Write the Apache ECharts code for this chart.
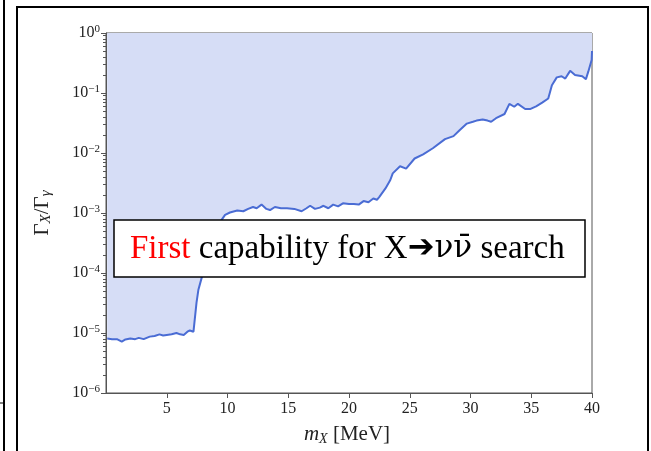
<!DOCTYPE html>
<html>
<head>
<meta charset="utf-8">
<script src="https://cdn.jsdelivr.net/npm/echarts@6/dist/echarts.min.js"></script>
<style>
html,body{margin:0;padding:0;background:#fff;}
#chart{width:651px;height:451px;}
</style>
</head>
<body>
<div id="chart"></div>
<script>
// m_X [MeV]
const massMeV = [
  0.1, 0.5, 0.9, 1.3, 1.6, 2.0, 2.4, 2.7, 3.1, 3.6, 4.0, 4.4, 4.7, 5.0, 5.4, 5.8, 6.1, 6.4, 6.7, 6.9, 7.2, 7.35,
  7.45, 7.6, 7.9, 8.3, 8.8, 9.4, 9.8, 10.2, 10.8, 11.3, 11.7, 12.1, 12.4, 12.8, 13.2, 13.5, 13.9, 14.4, 14.9,
  15.5, 16.1, 16.5, 16.8, 17.2, 17.6, 17.9, 18.3, 18.7, 19.1, 19.5, 20.0, 20.4, 20.8, 21.2, 21.6, 22.0, 22.3,
  22.5, 23.0, 23.4, 23.6, 24.2, 24.7, 25.4, 26.1, 26.9, 27.9, 28.6, 29.1, 29.7, 30.2, 30.5, 31.0, 31.4, 31.7,
  32.1, 32.8, 33.2, 33.6, 33.9, 34.5, 34.9, 35.4, 35.9, 36.4, 36.7, 37.1, 37.5, 37.8, 38.2, 38.6, 39.2, 39.5,
  39.7, 39.97, 40.0
];
// Gamma_X / Gamma_gamma limit
const ratio = [
  8.1e-6, 7.9e-6, 7.9e-6, 7.2e-6, 7.8e-6, 8.1e-6, 7.9e-6, 8.3e-6, 7.9e-6, 8.7e-6, 8.9e-6, 9.5e-6, 9.1e-6, 9.3e-6, 9.5e-6, 1.0e-5, 9.5e-6, 9.3e-6, 1.05e-5, 1.1e-5, 1.05e-5, 1.02e-5,
  3.2e-5, 5.2e-5, 8.7e-5, 2.5e-4, 5.0e-4, 7.1e-4, 9.3e-4, 1.02e-3, 1.10e-3, 1.07e-3, 1.17e-3, 1.26e-3, 1.20e-3, 1.38e-3, 1.17e-3, 1.12e-3, 1.26e-3, 1.20e-3, 1.20e-3,
  1.17e-3, 1.07e-3, 1.20e-3, 1.32e-3, 1.17e-3, 1.23e-3, 1.32e-3, 1.20e-3, 1.38e-3, 1.29e-3, 1.45e-3, 1.41e-3, 1.41e-3, 1.38e-3, 1.58e-3, 1.51e-3, 1.74e-3, 1.66e-3,
  1.86e-3, 2.57e-3, 3.55e-3, 4.57e-3, 6.0e-3, 5.5e-3, 8.1e-3, 9.5e-3, 1.20e-2, 1.70e-2, 1.91e-2, 2.40e-2, 3.09e-2, 3.31e-2, 3.47e-2, 3.63e-2, 3.47e-2, 3.31e-2,
  3.80e-2, 4.47e-2, 6.6e-2, 5.9e-2, 6.6e-2, 5.4e-2, 5.4e-2, 6.0e-2, 6.9e-2, 8.1e-2, 0.135, 0.182, 0.19, 0.174, 0.234, 0.20, 0.19, 0.17,
  0.229, 0.355, 0.5
];
const xTicks = [5, 10, 15, 20, 25, 30, 35, 40];
const yMinorTicks = [];
[-6, -5, -4, -3, -2, -1].forEach(function (e) {
  for (let k = 2; k <= 9; k++) yMinorTicks.push(k * Math.pow(10, e));
});

const serif = 'Liberation Serif';
const chart = echarts.init(document.getElementById('chart'), null, {renderer: 'canvas'});
const seriesData = massMeV.map(function (m, i) { return [m, ratio[i]]; });

chart.setOption({
  animation: false,
  backgroundColor: '#ffffff',
  grid: {left: 106, right: 59, top: 33, bottom: 58, show: true, borderColor: '#555', borderWidth: 1, backgroundColor: 'transparent'},
  xAxis: {
    type: 'value', min: 0, max: 40, interval: 5,
    axisLine: {show: true, lineStyle: {color: '#555', width: 1}},
    axisTick: {show: true, inside: false, length: 5, customValues: xTicks, lineStyle: {color: '#555'}},
    axisLabel: {customValues: xTicks, fontFamily: serif, fontSize: 16, color: '#222', margin: 8},
    splitLine: {show: false}
  },
  yAxis: [{
    type: 'log', logBase: 10, min: 1e-6, max: 1, interval: 1,
    axisLine: {show: true, lineStyle: {color: '#555', width: 1}},
    axisTick: {show: true, inside: false, length: 5, lineStyle: {color: '#555'}},
    axisLabel: {
      margin: 6, color: '#222',
      formatter: function (v) {
        const e = Math.round(Math.log10(v));
        return '{b|10}{s|' + (e < 0 ? '\u2212' + (-e) : e) + '}';
      },
      rich: {
        b: {fontFamily: serif, fontSize: 16, color: '#222', lineHeight: 18},
        s: {fontFamily: serif, fontSize: 11, color: '#222', lineHeight: 10, verticalAlign: 'top'}
      }
    },
    splitLine: {show: false}
  }, {
    type: 'log', logBase: 10, min: 1e-6, max: 1, position: 'left',
    axisLine: {show: false},
    axisTick: {show: true, inside: false, length: 3, customValues: yMinorTicks, lineStyle: {color: '#555'}},
    axisLabel: {show: false},
    splitLine: {show: false}
  }],
  series: [{
    type: 'line',
    data: seriesData,
    showSymbol: false,
    smooth: false,
    lineStyle: {color: '#4a6cd4', width: 2},
    areaStyle: {origin: 'end', color: '#d6ddf6', opacity: 1},
    z: 2
  }],
  graphic: [
    // outer panel frames
    {type: 'rect', shape: {x: 17, y: 7, width: 631, height: 460}, style: {fill: null, stroke: '#000', lineWidth: 2}, z: 100, silent: true},
    {type: 'line', shape: {x1: 4, y1: 0, x2: 4, y2: 451}, style: {stroke: '#000', lineWidth: 2}, z: 100, silent: true},
    {type: 'line', shape: {x1: 0, y1: 403, x2: 4, y2: 403}, style: {stroke: '#000', lineWidth: 1}, z: 100, silent: true},
    // y-axis title
    {
      type: 'text', x: 42, y: 213, rotation: Math.PI / 2, z: 100, silent: true,
      style: {
        text: '{g|\u0393}{i|X}{g|/\u0393}{i|\u03b3}',
        align: 'center', verticalAlign: 'middle',
        rich: {
          g: {fontFamily: serif, fontSize: 21, fill: '#222', lineHeight: 24},
          i: {fontFamily: serif, fontStyle: 'italic', fontSize: 15, fill: '#222', lineHeight: 12, verticalAlign: 'bottom'}
        }
      }
    },
    // x-axis title
    {
      type: 'text', x: 347, y: 434, z: 100, silent: true,
      style: {
        text: '{m|m}{i|X}{g| [MeV]}',
        align: 'center', verticalAlign: 'middle',
        rich: {
          m: {fontFamily: serif, fontStyle: 'italic', fontSize: 21, fill: '#222', lineHeight: 24},
          i: {fontFamily: serif, fontStyle: 'italic', fontSize: 14, fill: '#222', lineHeight: 12, verticalAlign: 'bottom'},
          g: {fontFamily: serif, fontSize: 21, fill: '#222', lineHeight: 24}
        }
      }
    },
    // annotation box
    {type: 'rect', shape: {x: 114, y: 220, width: 471, height: 57}, style: {fill: '#fff', stroke: '#000', lineWidth: 1.5}, z: 110, silent: true},
    {
      type: 'text', x: 130, y: 249, z: 111, silent: true,
      style: {
        text: '{r|First}{k| capability for X}{a|\u2794}{n|\u03bd\u03bd\u0304}{k| search}',
        align: 'left', verticalAlign: 'middle',
        rich: {
          r: {fontFamily: serif, fontSize: 33, fill: '#ff0000', lineHeight: 40},
          k: {fontFamily: serif, fontSize: 33, fill: '#000', lineHeight: 40},
          n: {fontFamily: 'DejaVu Serif', fontSize: 31, fill: '#000', lineHeight: 40},
          a: {fontFamily: 'DejaVu Sans', fontSize: 32, fontWeight: 'bold', fill: '#000', lineHeight: 40}
        }
      }
    }
  ]
});
</script>
</body>
</html>
